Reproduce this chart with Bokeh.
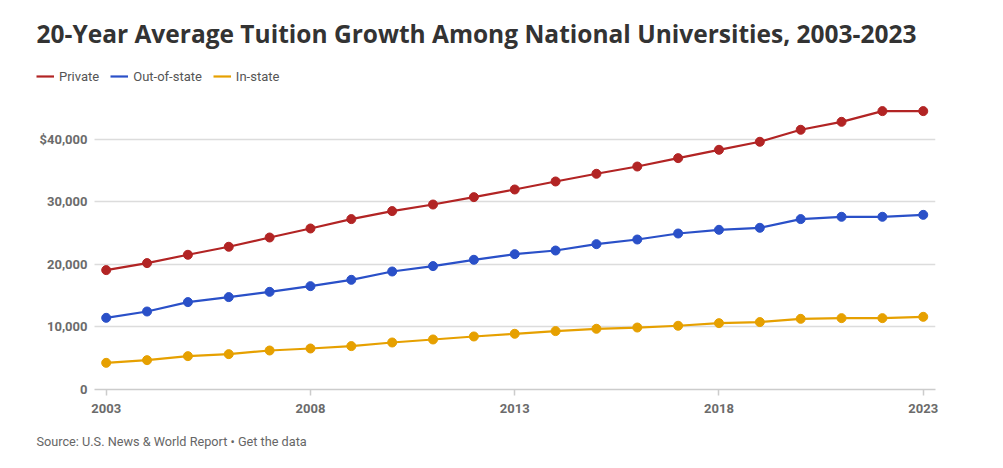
from bokeh.plotting import figure
from bokeh.models import Range1d, Legend, LegendItem, FixedTicker, Title, BoxAnnotation
from bokeh.embed import file_html
from bokeh.resources import INLINE

years = list(range(2003, 2024))
private = [19070, 20190, 21520, 22800, 24280, 25720, 27220, 28500, 29550, 30730, 31950,
           33230, 34460, 35620, 36960, 38290, 39570, 41490, 42760, 44470, 44470]
out_of_state = [11450, 12460, 13960, 14760, 15600, 16510, 17520, 18850, 19710, 20720, 21620,
                22200, 23220, 23960, 24920, 25510, 25830, 27220, 27590, 27590, 27900]
in_state = [4260, 4690, 5330, 5650, 6230, 6550, 6930, 7510, 7990, 8470, 8900,
            9330, 9700, 9900, 10180, 10600, 10770, 11290, 11400, 11400, 11610]

series_names = ["Private", "Out-of-state", "In-state"]
series_colors = ["#b22424", "#2a50c8", "#e6a000"]

x_ticks = [2003, 2008, 2013, 2018, 2023]
y_ticks = [0, 10000, 20000, 30000, 40000]
y_tick_labels = ["0", "10,000", "20,000", "30,000", "$40,000"]

title_text = "20-Year Average Tuition Growth Among National Universities, 2003-2023"
source_text = "Source: U.S. News & World Report \u2022 Get the data"

W, H = 1003, 468
ML, MR, MT, MB = 36, 68, 60, 79
X_START, X_END, GRID_START = 2001.294, 2023.30, 2002.714
Y_END = 52556

p = figure(width=W, height=H, output_backend="svg", toolbar_location=None,
           x_range=Range1d(X_START, X_END), y_range=Range1d(0, Y_END),
           min_border_left=ML, min_border_right=MR, min_border_top=MT, min_border_bottom=MB)
p.outline_line_color = None

p.title.text = title_text
p.title.align = "left"
p.title.offset = 0
p.title.standoff = 22
p.title.text_font = "Open Sans"
p.title.text_font_style = "bold"
p.title.text_font_size = "24.5px"
p.title.text_color = "#333333"

p.xgrid.grid_line_color = None
p.ygrid.grid_line_color = "#dcdcdc"
p.ygrid.grid_line_width = 1.5
p.ygrid.ticker = FixedTicker(ticks=y_ticks)
if "cross_bounds" in p.ygrid.properties():
    p.ygrid.cross_bounds = (GRID_START, X_END)
else:
    p.add_layout(BoxAnnotation(left=X_START, right=GRID_START, fill_color="white",
                               fill_alpha=1, line_color=None, level="underlay"))

p.yaxis.ticker = FixedTicker(ticks=y_ticks)
p.yaxis.major_label_overrides = {t: l for t, l in zip(y_ticks, y_tick_labels)}
p.yaxis.axis_line_color = None
p.yaxis.major_tick_line_color = None
p.yaxis.minor_tick_line_color = None
p.yaxis.major_tick_in = 0
p.yaxis.major_tick_out = 0
p.yaxis.minor_tick_in = 0
p.yaxis.minor_tick_out = 0
p.yaxis.major_label_standoff = -51
p.yaxis.major_label_text_font = "Roboto"
p.yaxis.major_label_text_font_style = "bold"
p.yaxis.major_label_text_font_size = "13px"
p.yaxis.major_label_text_color = "#6b6b6b"

p.xaxis.ticker = FixedTicker(ticks=x_ticks)
p.xaxis.bounds = (GRID_START, X_END)
p.xaxis.axis_line_color = "#cccccc"
p.xaxis.axis_line_width = 1.5
p.xaxis.major_tick_line_color = "#cccccc"
p.xaxis.major_tick_line_width = 1.5
p.xaxis.major_tick_in = 0
p.xaxis.major_tick_out = 6
p.xaxis.minor_tick_line_color = None
p.xaxis.major_label_standoff = 8
p.xaxis.major_label_text_font = "Roboto"
p.xaxis.major_label_text_font_style = "bold"
p.xaxis.major_label_text_font_size = "13px"
p.xaxis.major_label_text_color = "#6b6b6b"

items = []
for name, ys, col in zip(series_names, [private, out_of_state, in_state], series_colors):
    r = p.line(years, ys, line_color=col, line_width=2.2)
    p.scatter(years, ys, size=9, fill_color=col, line_color=col)
    items.append(LegendItem(label=name, renderers=[r]))

legend = Legend(items=items, orientation="horizontal", location=(0, 305),
                border_line_color=None, background_fill_alpha=0,
                padding=0, margin=0, spacing=11, glyph_width=18, glyph_height=16,
                label_height=16, label_standoff=5,
                label_text_font="Roboto", label_text_font_size="13px",
                label_text_color="#555555")
p.add_layout(legend, "center")

p.add_layout(Title(text=source_text, align="left", offset=0, standoff=33,
                   text_font="Roboto", text_font_style="normal", text_font_size="12.7px",
                   text_color="#666666"), "below")

open("out.html", "w").write(file_html(p, INLINE))
